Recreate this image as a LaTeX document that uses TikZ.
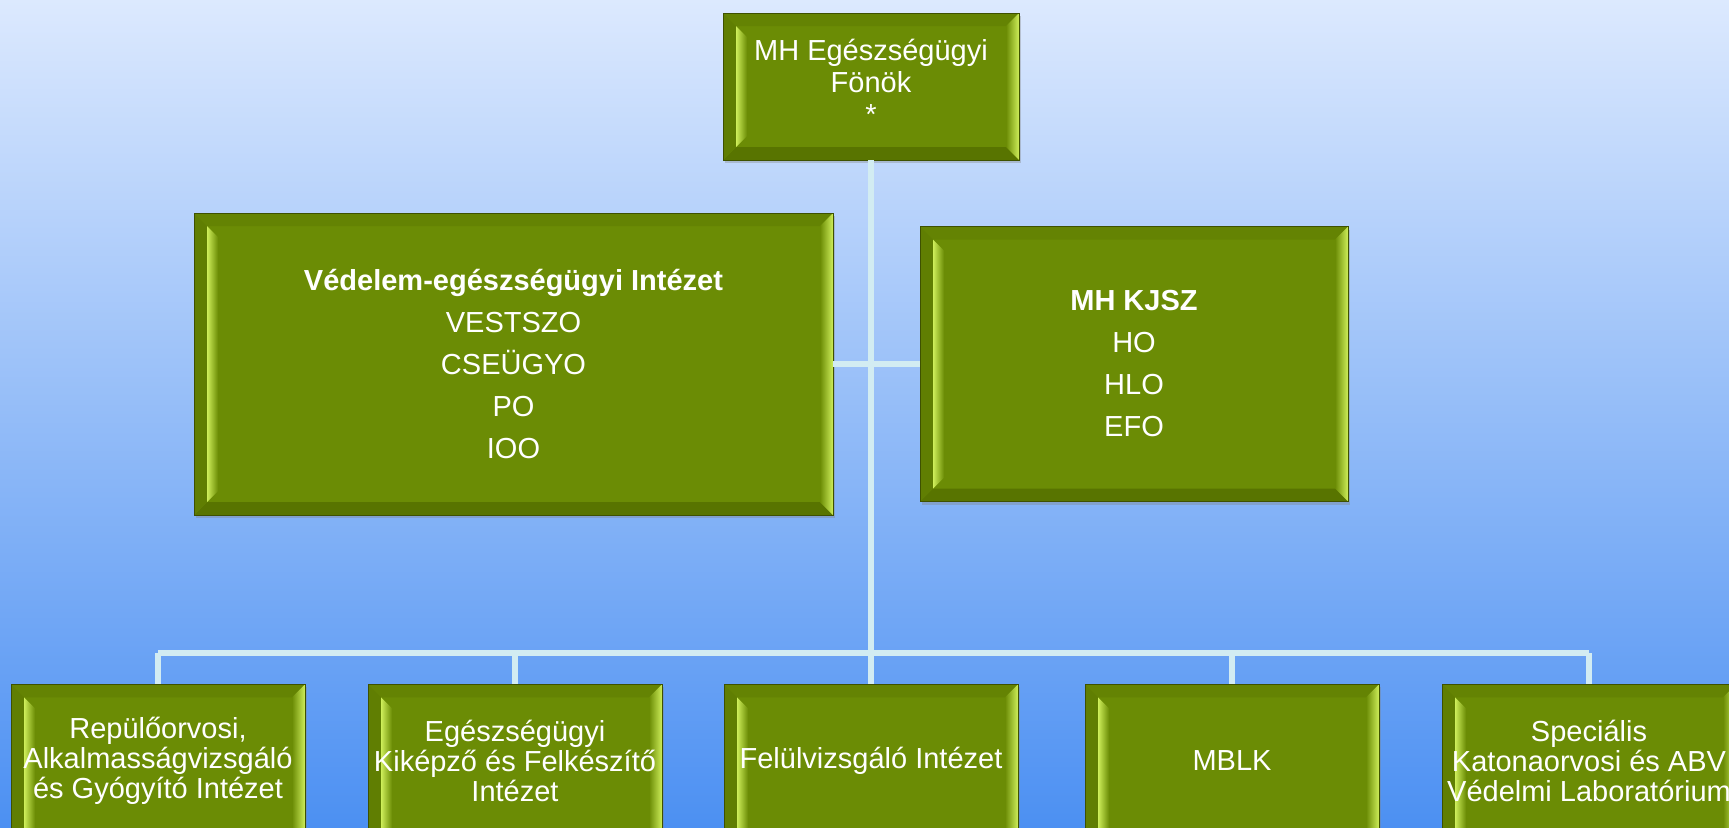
\documentclass[tikz,border=0pt]{standalone}
\usepackage{fontspec}
\setmainfont{Liberation Sans}
\usetikzlibrary{shadows}

\definecolor{skytop}{RGB}{220,233,254}
\definecolor{skybottom}{RGB}{76,144,242}
\definecolor{boxgreen}{RGB}{107,140,5}
\definecolor{bevtop}{RGB}{100,131,3}
\definecolor{bevside}{RGB}{96,126,2}
\definecolor{bevbottom}{RGB}{88,116,0}
\definecolor{bevlight}{RGB}{206,238,90}
\definecolor{linkcol}{RGB}{210,236,242}

\tikzset{
  bevel/.style={path picture={
    \fill[bevtop] (path picture bounding box.north west) -- (path picture bounding box.north east)
      -- ([xshift=-6.5pt,yshift=-6.5pt]path picture bounding box.north east)
      -- ([xshift=6.5pt,yshift=-6.5pt]path picture bounding box.north west) -- cycle;
    \fill[bevbottom] (path picture bounding box.south west) -- (path picture bounding box.south east)
      -- ([xshift=-6.5pt,yshift=6.5pt]path picture bounding box.south east)
      -- ([xshift=6.5pt,yshift=6.5pt]path picture bounding box.south west) -- cycle;
    \fill[bevside] (path picture bounding box.north west)
      -- ([xshift=6.5pt,yshift=-6.5pt]path picture bounding box.north west)
      -- ([xshift=6.5pt,yshift=6.5pt]path picture bounding box.south west)
      -- (path picture bounding box.south west) -- cycle;
    % highlight just inside the left edge
    \shade[left color=bevlight, right color=boxgreen]
      ([xshift=6.5pt,yshift=-6.5pt]path picture bounding box.north west)
      -- ([xshift=12pt,yshift=-12pt]path picture bounding box.north west)
      -- ([xshift=12pt,yshift=12pt]path picture bounding box.south west)
      -- ([xshift=6.5pt,yshift=6.5pt]path picture bounding box.south west) -- cycle;
    \shade[left color=boxgreen, right color=bevlight] (path picture bounding box.north east)
      -- ([xshift=-6.5pt,yshift=-6.5pt]path picture bounding box.north east)
      -- ([xshift=-6.5pt,yshift=6.5pt]path picture bounding box.south east)
      -- (path picture bounding box.south east) -- cycle;
  }},
  orgbox/.style={rectangle, fill=boxgreen, draw=bevbottom!70!black, line width=0.4pt,
    text=white, align=center, inner sep=1pt, bevel,
    drop shadow={shadow xshift=1.2pt, shadow yshift=-1.5pt, opacity=0.35}},
  topbox/.style={orgbox, minimum width=148pt, minimum height=73.5pt,
    font=\fontsize{14.5}{16}\selectfont},
  midbox/.style={orgbox, font=\fontsize{14.5}{21}\selectfont},
  unitbox/.style={orgbox, anchor=north, minimum width=147pt, minimum height=84pt,
    text depth=8pt, font=\fontsize{14.5}{15}\selectfont},
  link/.style={draw=linkcol, line width=2.6pt}
}

\begin{document}
\begin{tikzpicture}[x=0.5pt,y=-0.5pt]

\useasboundingbox (0,0) rectangle (1729,827);
\clip (0,0) rectangle (1729,827);
\shade[top color=skytop, bottom color=skybottom] (0,0) rectangle (1729,827);

% chief
\node[topbox, text depth=5pt] (chief) at (871,86.5) {MH Egészségügyi\\Fönök\\*};

% second row
\node[midbox, minimum width=319.5pt, minimum height=151pt] (vei) at (513.5,364)
  {\textbf{Védelem-egészségügyi Intézet}\\VESTSZO\\CSEÜGYO\\PO\\IOO};
\node[midbox, minimum width=214pt, minimum height=137.5pt] (kjsz) at (1134,364)
  {\textbf{MH KJSZ}\\HO\\HLO\\EFO};

% bottom row
\node[unitbox, text depth=11pt] (rgi) at (158,684) {Repülőorvosi,\\Alkalmasságvizsgáló\\és Gyógyító Intézet};
\node[unitbox] (ekfi) at (515,684) {Egészségügyi\\Kiképző és Felkészítő\\Intézet};
\node[unitbox, text depth=11pt] (fi) at (871,684) {Felülvizsgáló Intézet};
\node[unitbox] (mblk) at (1232,684) {MBLK};
\node[unitbox] (skal) at (1589,684) {Speciális\\Katonaorvosi és ABV\\Védelmi Laboratórium};

% connectors
\coordinate (bus) at (871,653);
\draw[link] (chief.south) -- (bus);
\draw[link] (vei.east) -- (kjsz.west);
\draw[link] (rgi.north |- bus) -- (skal.north |- bus);
\foreach \u in {rgi,ekfi,fi,mblk,skal}
  \draw[link] (\u.north |- bus) -- (\u.north);

\end{tikzpicture}
\end{document}
